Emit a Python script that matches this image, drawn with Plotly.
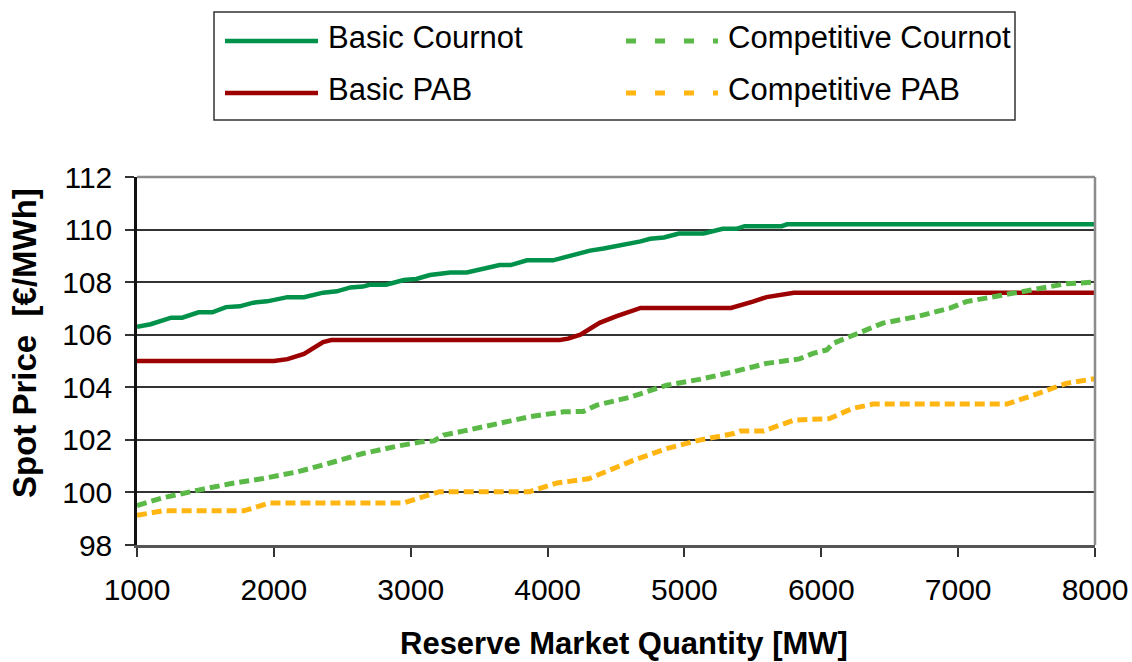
import plotly.graph_objects as go

# ---------------- data ----------------
bc_x = [1000, 1100, 1250, 1330, 1450, 1550, 1650, 1750, 1850, 1950, 2100, 2220, 2360, 2460,
        2560, 2650, 2700, 2820, 2950, 3040, 3140, 3240, 3290, 3410, 3530, 3650, 3730, 3850,
        4040, 4140, 4210, 4310, 4410, 4600, 4680, 4750, 4850, 4960, 5140, 5280, 5380, 5440,
        5710, 5750, 8000]
bc_y = [106.3, 106.4, 106.65, 106.65, 106.85, 106.85, 107.05, 107.08, 107.22, 107.27, 107.43,
        107.43, 107.6, 107.65, 107.8, 107.83, 107.9, 107.9, 108.08, 108.12, 108.27, 108.32,
        108.37, 108.37, 108.5, 108.65, 108.65, 108.83, 108.83, 108.97, 109.03, 109.2, 109.28,
        109.45, 109.55, 109.65, 109.7, 109.85, 109.85, 110.03, 110.03, 110.13, 110.13, 110.2,
        110.2]

bp_x = [1000, 2000, 2100, 2220, 2360, 2420, 4090, 4150, 4240, 4380, 4500, 4600, 4680, 5340,
        5430, 5500, 5600, 5800, 8000]
bp_y = [105.0, 105.0, 105.07, 105.27, 105.72, 105.8, 105.8, 105.85, 106.0, 106.45, 106.7,
        106.87, 107.02, 107.02, 107.18, 107.26, 107.43, 107.6, 107.6]

cc_x = [1000, 1190, 1440, 1680, 1920, 2170, 2410, 2650, 2900, 3070, 3170, 3240, 3390, 3630,
        3870, 4120, 4260, 4360, 4600, 4870, 5110, 5360, 5600, 5840, 5940, 6040, 6090, 6210,
        6450, 6700, 6940, 7060, 7300, 7550, 7790, 8000]
cc_y = [99.5, 99.8, 100.08, 100.33, 100.53, 100.78, 101.12, 101.48, 101.76, 101.92, 101.96,
        102.18, 102.34, 102.62, 102.88, 103.07, 103.08, 103.32, 103.62, 104.08, 104.3, 104.59,
        104.91, 105.08, 105.29, 105.42, 105.68, 105.93, 106.44, 106.69, 107.01, 107.26, 107.48,
        107.74, 107.94, 108.0]

cp_x = [1000, 1190, 1780, 1970, 2950, 3210, 3870, 4070, 4300, 4450, 4626, 4870, 5110, 5360,
        5410, 5580, 5800, 6060, 6230, 6380, 7355, 7550, 7790, 8000]
cp_y = [99.13, 99.3, 99.3, 99.6, 99.6, 100.03, 100.03, 100.36, 100.52, 100.85, 101.22, 101.67,
        101.99, 102.24, 102.34, 102.34, 102.75, 102.81, 103.2, 103.36, 103.36, 103.7, 104.15,
        104.33]

series_names = ["Basic Cournot", "Competitive Cournot", "Basic PAB", "Competitive PAB"]
x_ticks = [1000, 2000, 3000, 4000, 5000, 6000, 7000, 8000]
y_ticks = [98, 100, 102, 104, 106, 108, 110, 112]

# ---------------- styling ----------------
C_BC = "#00914A"
C_BP = "#9C0000"
C_CC = "#5BB947"
C_CP = "#FFB612"
FONT = "Liberation Sans, Arial, sans-serif"

W, H = 1132, 662
L, R, T, B = 137, 37, 177, 117
PW, PH = W - L - R, H - T - B


def px2x(px):
    return (px - L) / PW


def px2y(py):
    return (H - B - py) / PH


fig = go.Figure()
fig.add_trace(go.Scatter(x=bc_x, y=bc_y, mode="lines", name=series_names[0],
                         line=dict(color=C_BC, width=4.5)))
fig.add_trace(go.Scatter(x=bp_x, y=bp_y, mode="lines", name=series_names[2],
                         line=dict(color=C_BP, width=4.5)))
fig.add_trace(go.Scatter(x=cc_x, y=cc_y, mode="lines", name=series_names[1],
                         line=dict(color=C_CC, width=5, dash="10px,5px")))
fig.add_trace(go.Scatter(x=cp_x, y=cp_y, mode="lines", name=series_names[3],
                         line=dict(color=C_CP, width=5, dash="10px,5px")))

shapes = []
annotations = []

# plot frame: gray top and right border
shapes.append(dict(type="line", xref="paper", yref="paper", x0=0, x1=1, y0=1, y1=1,
                   line=dict(color="#8C8C8C", width=2.5)))
shapes.append(dict(type="line", xref="paper", yref="paper", x0=1, x1=1, y0=0, y1=1,
                   line=dict(color="#8C8C8C", width=2.5)))

# custom legend box
shapes.append(dict(type="rect", xref="paper", yref="paper",
                   x0=px2x(214), x1=px2x(1015), y0=px2y(120), y1=px2y(12),
                   line=dict(color="#333333", width=1.5), fillcolor="white"))
legend_items = [
    (series_names[0], C_BC, "solid", 225, 318, 326, 41),
    (series_names[2], C_BP, "solid", 225, 318, 326, 93),
    (series_names[1], C_CC, "10px,19px", 626, 718, 726, 41),
    (series_names[3], C_CP, "10px,19px", 626, 718, 726, 93),
]
for name, col, dash, lx0, lx1, tx, ly in legend_items:
    shapes.append(dict(type="line", xref="paper", yref="paper",
                       x0=px2x(lx0), x1=px2x(lx1), y0=px2y(ly), y1=px2y(ly),
                       line=dict(color=col, width=5 if dash != "solid" else 4.5, dash=dash)))
    annotations.append(dict(text=name, xref="paper", yref="paper", x=px2x(tx), y=px2y(ly - 3),
                            xanchor="left", yanchor="middle", showarrow=False,
                            font=dict(family=FONT, size=31, color="black")))

# axis titles
annotations.append(dict(text="<b>Reserve Market Quantity [MW]</b>", xref="paper", yref="paper",
                        x=px2x(624), y=px2y(643), xanchor="center", yanchor="middle",
                        showarrow=False, font=dict(family=FONT, size=31, color="black")))
annotations.append(dict(text="<b>Spot Price  [€/MWh]</b>", xref="paper", yref="paper",
                        x=px2x(24), y=px2y(343), xanchor="center", yanchor="middle",
                        textangle=-90, showarrow=False,
                        font=dict(family=FONT, size=33, color="black")))

fig.update_layout(
    width=W, height=H, autosize=False,
    margin=dict(l=L, r=R, t=T, b=B, pad=0, autoexpand=False),
    paper_bgcolor="white", plot_bgcolor="white",
    showlegend=False,
    shapes=shapes, annotations=annotations,
    font=dict(family=FONT, size=30, color="black"),
)
fig.update_xaxes(range=[1000, 8000], tickvals=x_ticks, ticktext=[str(v) for v in x_ticks],
                 showgrid=False, zeroline=False, automargin=False,
                 showline=True, linecolor="#555555", linewidth=2.5,
                 ticks="outside", ticklen=9, tickwidth=1.5, tickcolor="#333333",
                 ticklabelstandoff=7, ticklabeloverflow="allow",
                 tickfont=dict(family=FONT, size=30, color="black"))
fig.update_yaxes(range=[98, 112], tickvals=y_ticks, ticktext=[str(v) for v in y_ticks],
                 showgrid=True, gridcolor="#333333", gridwidth=1.5, zeroline=False,
                 automargin=False,
                 showline=True, linecolor="#111111", linewidth=2.5,
                 ticks="outside", ticklen=9, tickwidth=1.5, tickcolor="#333333",
                 ticklabelstandoff=7,
                 tickfont=dict(family=FONT, size=30, color="black"))

fig.write_html("out.html", config={"displayModeBar": False, "responsive": False},
               post_script="document.body.style.margin='0';document.body.style.padding='0';")
